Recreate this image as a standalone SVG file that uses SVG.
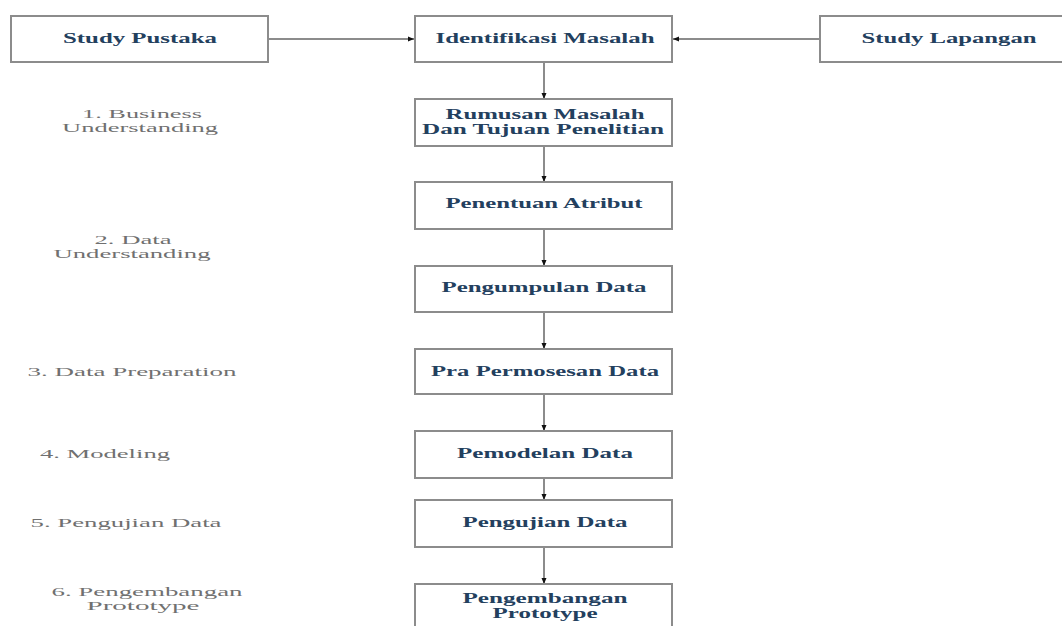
<svg xmlns="http://www.w3.org/2000/svg" width="1062" height="626" viewBox="0 0 1062 626">
<style>
.box{fill:#fff;stroke:#8c8c8c;stroke-width:2}
.bt{font-family:"Liberation Serif",serif;font-weight:bold;font-size:14px;fill:#23405e;text-anchor:middle}
.lt{font-family:"Liberation Serif",serif;font-size:13px;fill:#707070;text-anchor:middle}
.con{stroke:#8c8c8c;stroke-width:2;fill:none;marker-end:url(#ah)}
</style>
<defs>
<marker id="ah" markerUnits="userSpaceOnUse" markerWidth="6" markerHeight="6" refX="6" refY="3" orient="auto">
<path d="M0,0.5 L6,3 L0,5.5 z" fill="#111"/>
</marker>
</defs>
<rect width="1062" height="626" fill="#fff"/>
<g id="connectors">
<line class="con" x1="268" y1="39" x2="414" y2="39"/>
<line class="con" x1="820" y1="39" x2="673" y2="39"/>
<line class="con" x1="544" y1="62" x2="544" y2="99"/>
<line class="con" x1="544" y1="146" x2="544" y2="182"/>
<line class="con" x1="544" y1="229" x2="544" y2="266"/>
<line class="con" x1="544" y1="312" x2="544" y2="349"/>
<line class="con" x1="544" y1="394" x2="544" y2="431"/>
<line class="con" x1="544" y1="478" x2="544" y2="500"/>
<line class="con" x1="544" y1="547" x2="544" y2="584"/>
</g>
<g id="study-pustaka"><rect class="box" x="11" y="16" width="257" height="46"/><text class="bt" x="140" y="43" textLength="154" lengthAdjust="spacingAndGlyphs">Study Pustaka</text></g>
<g id="identifikasi"><rect class="box" x="415" y="16" width="257" height="46"/><text class="bt" x="545" y="43" textLength="219" lengthAdjust="spacingAndGlyphs">Identifikasi Masalah</text></g>
<g id="study-lapangan"><rect class="box" x="820" y="16" width="257" height="46"/><text class="bt" x="949" y="43" textLength="175" lengthAdjust="spacingAndGlyphs">Study Lapangan</text></g>
<g id="rumusan"><rect class="box" x="415" y="99" width="257" height="47"/><text class="bt" x="545" y="119" textLength="199" lengthAdjust="spacingAndGlyphs">Rumusan Masalah</text><text class="bt" x="543" y="134" textLength="242" lengthAdjust="spacingAndGlyphs">Dan Tujuan Penelitian</text></g>
<g id="penentuan"><rect class="box" x="415" y="182" width="257" height="47"/><text class="bt" x="544" y="208" textLength="197" lengthAdjust="spacingAndGlyphs">Penentuan Atribut</text></g>
<g id="pengumpulan"><rect class="box" x="415" y="266" width="257" height="46"/><text class="bt" x="544" y="292" textLength="205" lengthAdjust="spacingAndGlyphs">Pengumpulan Data</text></g>
<g id="pra"><rect class="box" x="415" y="349" width="257" height="45"/><text class="bt" x="545" y="376" textLength="228" lengthAdjust="spacingAndGlyphs">Pra Permosesan Data</text></g>
<g id="pemodelan"><rect class="box" x="415" y="431" width="257" height="47"/><text class="bt" x="545" y="458" textLength="176" lengthAdjust="spacingAndGlyphs">Pemodelan Data</text></g>
<g id="pengujian"><rect class="box" x="415" y="500" width="257" height="47"/><text class="bt" x="545" y="527" textLength="165" lengthAdjust="spacingAndGlyphs">Pengujian Data</text></g>
<g id="pengembangan"><rect class="box" x="415" y="584" width="257" height="50"/><text class="bt" x="545" y="603" textLength="165" lengthAdjust="spacingAndGlyphs">Pengembangan</text><text class="bt" x="545" y="618" textLength="105" lengthAdjust="spacingAndGlyphs">Prototype</text></g>
<g id="labels">
<text class="lt" x="142" y="118" textLength="120" lengthAdjust="spacingAndGlyphs">1. Business</text>
<text class="lt" x="140" y="132" textLength="156" lengthAdjust="spacingAndGlyphs">Understanding</text>
<text class="lt" x="133" y="244" textLength="77" lengthAdjust="spacingAndGlyphs">2. Data</text>
<text class="lt" x="132" y="258" textLength="157" lengthAdjust="spacingAndGlyphs">Understanding</text>
<text class="lt" x="132" y="376" textLength="209" lengthAdjust="spacingAndGlyphs">3. Data Preparation</text>
<text class="lt" x="105" y="458" textLength="130" lengthAdjust="spacingAndGlyphs">4. Modeling</text>
<text class="lt" x="126" y="527" textLength="191" lengthAdjust="spacingAndGlyphs">5. Pengujian Data</text>
<text class="lt" x="147" y="596" textLength="191" lengthAdjust="spacingAndGlyphs">6. Pengembangan</text>
<text class="lt" x="143" y="610" textLength="113" lengthAdjust="spacingAndGlyphs">Prototype</text>
</g>
</svg>
